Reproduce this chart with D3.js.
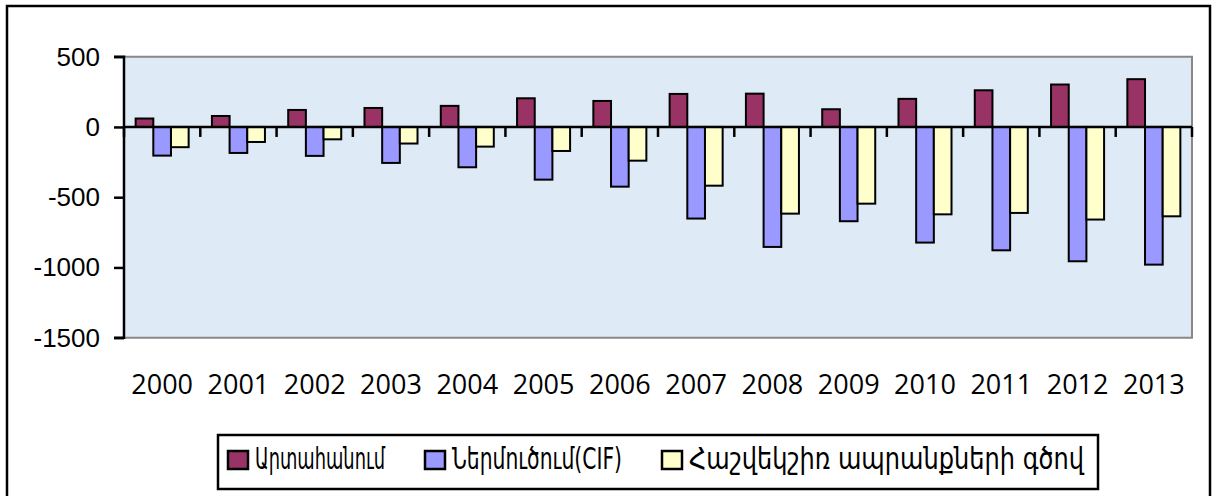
<!DOCTYPE html>
<html>
<head>
<meta charset="utf-8">
<script src="https://cdn.jsdelivr.net/npm/d3@7"></script>
<style>
  html, body { margin: 0; padding: 0; background: #fff; }
  svg { display: block; }
</style>
</head>
<body>
<svg id="vis" width="1216" height="496"></svg>
<script>
// chart data
const YEARS = ["2000", "2001", "2002", "2003", "2004", "2005", "2006",
               "2007", "2008", "2009", "2010", "2011", "2012", "2013"];
const EXPORTS = [60, 78, 121, 135, 150, 204, 185, 235, 237, 126, 200, 261, 302, 340];
const IMPORTS = [-204, -185, -206, -256, -287, -375, -425, -652, -854, -671, -823, -878, -956, -980];
const BALANCE = [-144, -107, -88, -118, -140, -171, -240, -418, -617, -546, -622, -612, -659, -636];
const SERIES_NAMES = ["Արտահանում", "Ներմուծում(CIF)", "Հաշվեկշիռ ապրանքների գծով"];
const Y_TICKS = [500, 0, -500, -1000, -1500];

const COLORS = ["#993366", "#9999ff", "#ffffcc"];
const PLOT = {left: 124, right: 1192, top: 56.7, bottom: 337.7};

const svg = d3.select("#vis");

// outer chart border
svg.append("rect")
    .attr("x", 7).attr("y", 6)
    .attr("width", 1203).attr("height", 520)
    .attr("fill", "#fff")
    .attr("stroke", "#000")
    .attr("stroke-width", 2.5);

// scales
const x = d3.scaleBand()
    .domain(YEARS)
    .range([PLOT.left, PLOT.right])
    .paddingInner(0.305)
    .paddingOuter(0.1525);

const xs = d3.scaleBand()
    .domain(d3.range(SERIES_NAMES.length))
    .range([0, x.bandwidth()]);

const y = d3.scaleLinear()
    .domain([-1500, 500])
    .range([PLOT.bottom, PLOT.top]);

// plot background, light blue
svg.append("rect")
    .attr("x", PLOT.left).attr("y", PLOT.top)
    .attr("width", PLOT.right - PLOT.left)
    .attr("height", PLOT.bottom - PLOT.top)
    .attr("fill", "#dfeaf7");

// gray frame on top / right / bottom
svg.append("path")
    .attr("d", `M${PLOT.left},${PLOT.top}H${PLOT.right}V${PLOT.bottom}H${PLOT.left}`)
    .attr("fill", "none")
    .attr("stroke", "#888")
    .attr("stroke-width", 2);

// bars
const rows = YEARS.map((yr, i) => ({year: yr, values: [EXPORTS[i], IMPORTS[i], BALANCE[i]]}));

const groups = svg.selectAll("g.year")
    .data(rows)
    .enter()
    .append("g")
    .attr("class", "year")
    .attr("transform", d => `translate(${x(d.year)},0)`);

groups.selectAll("rect")
    .data(d => d.values.map((v, k) => ({k: k, v: v})))
    .enter()
    .append("rect")
    .attr("x", d => xs(d.k))
    .attr("width", xs.bandwidth())
    .attr("y", d => y(Math.max(0, d.v)))
    .attr("height", d => Math.abs(y(d.v) - y(0)))
    .attr("fill", d => COLORS[d.k])
    .attr("stroke", "#000")
    .attr("stroke-width", 2);

// y axis
const yAxis = d3.axisLeft(y)
    .tickValues(Y_TICKS)
    .tickSize(10)
    .tickPadding(14)
    .tickFormat(d => String(d));

const gy = svg.append("g")
    .attr("transform", `translate(${PLOT.left},0)`)
    .call(yAxis);
gy.select(".domain").attr("stroke-width", 2.5).attr("d", `M-10,${PLOT.top}H0V${PLOT.bottom}H-10`);
gy.selectAll(".tick line").attr("stroke-width", 2.5);
gy.selectAll(".tick text")
    .attr("fill", "#000")
    .style("font-family", "'Liberation Sans', Arial, sans-serif")
    .style("font-size", "26px");

// zero line with category ticks
const step = x.step();
const bounds = d3.range(YEARS.length + 1).map(i => PLOT.left + i * step);

svg.append("line")
    .attr("x1", PLOT.left).attr("x2", PLOT.right)
    .attr("y1", y(0)).attr("y2", y(0))
    .attr("stroke", "#000")
    .attr("stroke-width", 2.5);

svg.selectAll("line.cat-tick")
    .data(bounds)
    .enter()
    .append("line")
    .attr("class", "cat-tick")
    .attr("x1", d => d).attr("x2", d => d)
    .attr("y1", y(0)).attr("y2", y(0) + 10)
    .attr("stroke", "#000")
    .attr("stroke-width", 2.5);

// x labels below plot
svg.selectAll("text.year-label")
    .data(YEARS)
    .enter()
    .append("text")
    .attr("class", "year-label")
    .attr("x", d => x(d) + x.bandwidth() / 2)
    .attr("y", 394)
    .attr("text-anchor", "middle")
    .style("font-family", "'Open Sans', sans-serif")
    .style("font-size", "27px")
    .text(d => d);

// legend (text squeezed to the narrow Armenian face of the original)
const LEGEND_TEXT_W = [130, 170, 395];
const legend = svg.append("g").attr("class", "legend");
const legendBox = legend.append("rect")
    .attr("fill", "#fff")
    .attr("stroke", "#000")
    .attr("stroke-width", 2.5);

let cursor = 0;
SERIES_NAMES.forEach((name, k) => {
    const g = legend.append("g").attr("transform", `translate(${cursor},0)`);
    g.append("rect")
        .attr("x", 0).attr("y", -17)
        .attr("width", 20).attr("height", 18)
        .attr("fill", COLORS[k])
        .attr("stroke", "#000")
        .attr("stroke-width", 2.5);
    g.append("text")
        .attr("x", 27).attr("y", 1)
        .attr("textLength", LEGEND_TEXT_W[k])
        .attr("lengthAdjust", "spacingAndGlyphs")
        .style("font-family", "'DejaVu Sans', sans-serif")
        .style("font-size", "30px")
        .text(name);
    cursor += 27 + LEGEND_TEXT_W[k] + 40;
});
const legendWidth = cursor - 40;
legend.attr("transform", `translate(228,468)`);
legendBox
    .attr("x", -10).attr("y", -33)
    .attr("width", legendWidth + 24)
    .attr("height", 54);
</script>
</body>
</html>
